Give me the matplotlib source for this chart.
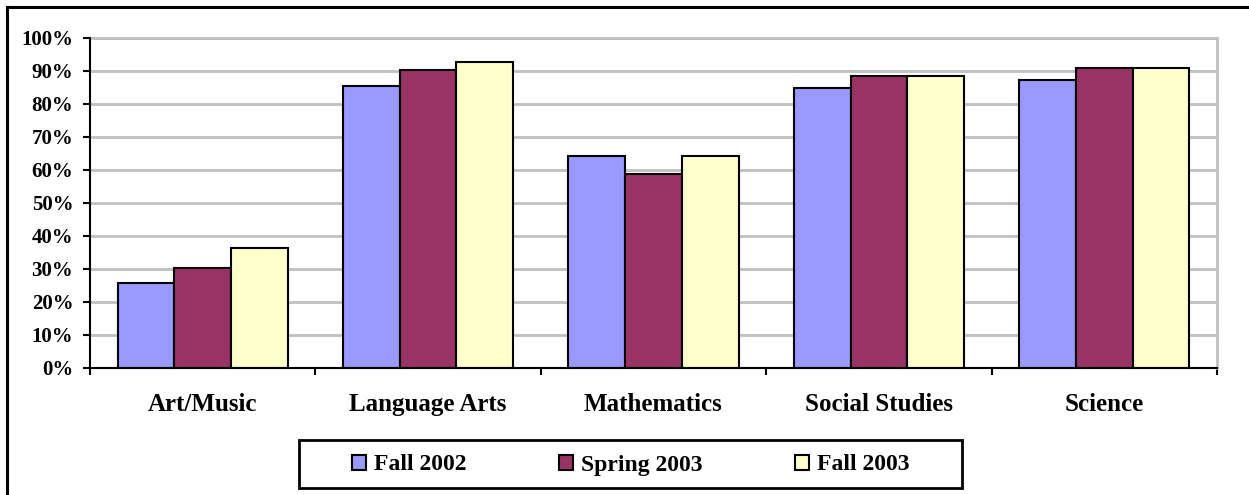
import matplotlib
matplotlib.use("Agg")
import matplotlib.pyplot as plt
import numpy as np
from matplotlib.lines import Line2D
from matplotlib.patches import Rectangle

categories = ["Art/Music", "Language Arts", "Mathematics", "Social Studies", "Science"]
series_names = ["Fall 2002", "Spring 2003", "Fall 2003"]
fall_2002 = [25.6, 85.4, 64.2, 84.8, 87.2]
spring_2003 = [30.3, 90.2, 58.8, 88.4, 90.9]
fall_2003 = [36.4, 92.7, 64.2, 88.4, 90.9]
colors = ["#9999FF", "#993366", "#FFFFCC"]
yticks = [0, 10, 20, 30, 40, 50, 60, 70, 80, 90, 100]
ytick_labels = [f"{v}%" for v in yticks]

plt.rcParams['font.family'] = ['Liberation Serif', 'DejaVu Serif']

W, H = 1249, 495
fig = plt.figure(figsize=(W / 100, H / 100), dpi=100)
ax = fig.add_axes([90 / W, 1 - 367.7 / H, (1217 - 90) / W, (367.7 - 37.5) / H])

x = np.arange(len(categories))
bw = 0.2515
for i, (vals, c, name) in enumerate(zip([fall_2002, spring_2003, fall_2003], colors, series_names)):
    ax.bar(x + (i - 1) * bw, vals, width=bw, color=c, edgecolor="black", linewidth=1.5,
           label=name, zorder=3)

ax.set_xlim(-0.5, len(categories) - 0.5)
ax.set_ylim(0, 100)
ax.set_yticks(yticks)
ax.set_yticklabels(ytick_labels, fontsize=15, fontweight="bold")
ax.set_xticks(x)
ax.set_xticklabels(categories, fontsize=18, fontweight="bold")
ax.tick_params(axis="x", length=0, pad=18)
ax.set_xticks(np.arange(len(categories) + 1) - 0.5, minor=True)
ax.tick_params(axis="x", which="minor", length=5, width=1.5, direction="out", color="black")
ax.tick_params(axis="y", length=5, width=1.5, direction="out", pad=7)

ax.grid(axis="y", color="#c0c0c0", linewidth=2, zorder=0)
ax.set_axisbelow(True)
for s in ["top", "right"]:
    ax.spines[s].set_color("#c0c0c0")
    ax.spines[s].set_linewidth(2)
for s in ["left", "bottom"]:
    ax.spines[s].set_color("black")
    ax.spines[s].set_linewidth(1.5)
    ax.spines[s].set_zorder(4)

# legend frame drawn separately
fig.add_artist(Rectangle((299 / W, 1 - 488 / H), (962 - 299) / W, (488 - 440) / H,
                         transform=fig.transFigure, facecolor="white", edgecolor="black",
                         linewidth=2, zorder=1))
handles = [Rectangle((0, 0), 1, 1, facecolor=c, edgecolor="black", linewidth=1.5) for c in colors]
leg = fig.legend(handles, series_names, loc="center",
                 bbox_to_anchor=((299 + 962) / 2 / W, 1 - 465 / H),
                 ncol=3, frameon=False,
                 prop={"size": 17, "weight": "bold"}, handlelength=0.6, handleheight=0.6,
                 handletextpad=0.35, columnspacing=3.9)
leg.set_zorder(2)

# outer figure border (top and left)
fig.add_artist(Line2D([7 / W, 1], [1 - 7 / H, 1 - 7 / H], color="black", linewidth=2.2,
                      transform=fig.transFigure))
fig.add_artist(Line2D([7 / W, 7 / W], [0, 1 - 7 / H], color="black", linewidth=2.2,
                      transform=fig.transFigure))

fig.savefig("out.png", dpi=100)
